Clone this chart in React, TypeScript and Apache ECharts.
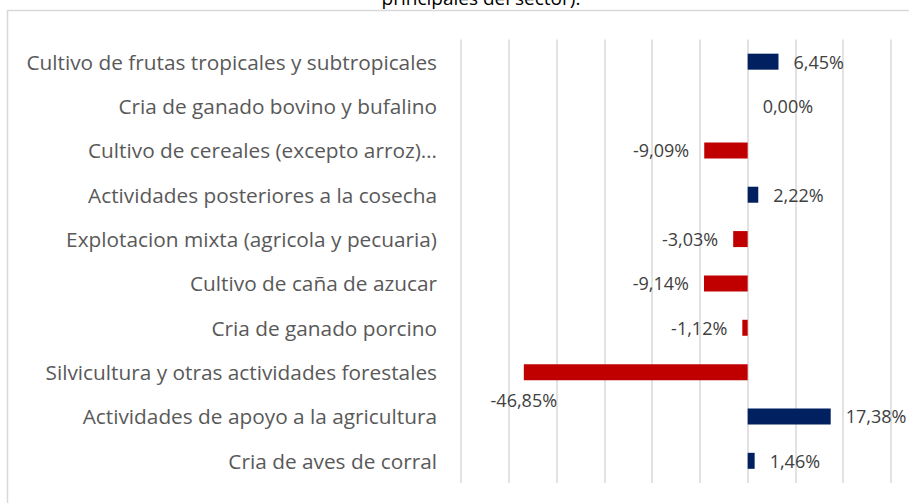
import React, { useEffect, useRef } from "react";
import * as echarts from "echarts";

const categories = [
  "Cultivo de frutas tropicales y subtropicales",
  "Cria de ganado bovino y bufalino",
  "Cultivo de cereales (excepto arroz)…",
  "Actividades posteriores a la cosecha",
  "Explotacion mixta (agricola y pecuaria)",
  "Cultivo de caña de azucar",
  "Cria de ganado porcino",
  "Silvicultura y otras actividades forestales",
  "Actividades de apoyo a la agricultura",
  "Cria de aves de corral",
];
const values = [6.45, 0.0, -9.09, 2.22, -3.03, -9.14, -1.12, -46.85, 17.38, 1.46];
const titleText = "principales del sector).";

const POS = "#002060";
const NEG = "#C00000";
const FONT = "'Open Sans', sans-serif";

const fmt = (v: number) => v.toFixed(2).replace(".", ",") + "%";

export default function App() {
  const ref = useRef<HTMLDivElement>(null);
  useEffect(() => {
    if (!ref.current) return;
    const chart = echarts.init(ref.current, null, { renderer: "svg" });
    const data = values.map((v) => {
      const item: any = {
        value: v,
        itemStyle: { color: v < 0 ? NEG : POS },
        label: { position: v < 0 ? "left" : "right" },
      };
      if (v < -40) {
        item.label = { position: [0, 36], align: "center", verticalAlign: "middle" };
      }
      return item;
    });
    chart.setOption({
      animation: false,
      backgroundColor: "#ffffff",
      graphic: [
        {
          type: "rect",
          shape: { x: 7.5, y: 10.5, width: 940, height: 540 },
          style: { fill: "none", stroke: "#d9d9d9", lineWidth: 1.5 },
          z: -1,
        },
        {
          type: "text",
          x: 481,
          y: 7,
          style: {
            text: titleText,
            font: `19px ${FONT}`,
            fill: "#000000",
            align: "center",
            verticalAlign: "bottom",
          },
        },
      ],
      grid: { left: 461, right: 18, top: 39.5, bottom: 20, containLabel: false },
      xAxis: {
        type: "value",
        min: -60,
        max: 30,
        interval: 10,
        axisLabel: { show: false },
        axisLine: { show: false },
        axisTick: { show: false },
        splitLine: { show: true, lineStyle: { color: "#d9d9d9", width: 1.5 } },
      },
      yAxis: {
        type: "category",
        inverse: true,
        data: categories,
        axisLine: { show: false, onZero: false },
        axisTick: { show: false },
        axisLabel: {
          margin: 24,
          color: "#595959",
          fontFamily: FONT,
          fontSize: 20.8,
        },
      },
      series: [
        {
          type: "bar",
          data,
          barWidth: 16,
          label: {
            show: true,
            distance: 15,
            color: "#404040",
            fontFamily: FONT,
            fontSize: 18,
            formatter: (p: any) => fmt(p.value),
          },
        },
      ],
    });
    return () => chart.dispose();
  }, []);
  return (
    <div
      ref={ref}
      style={{ position: "fixed", left: 0, top: 0, width: 909, height: 503 }}
    />
  );
}
